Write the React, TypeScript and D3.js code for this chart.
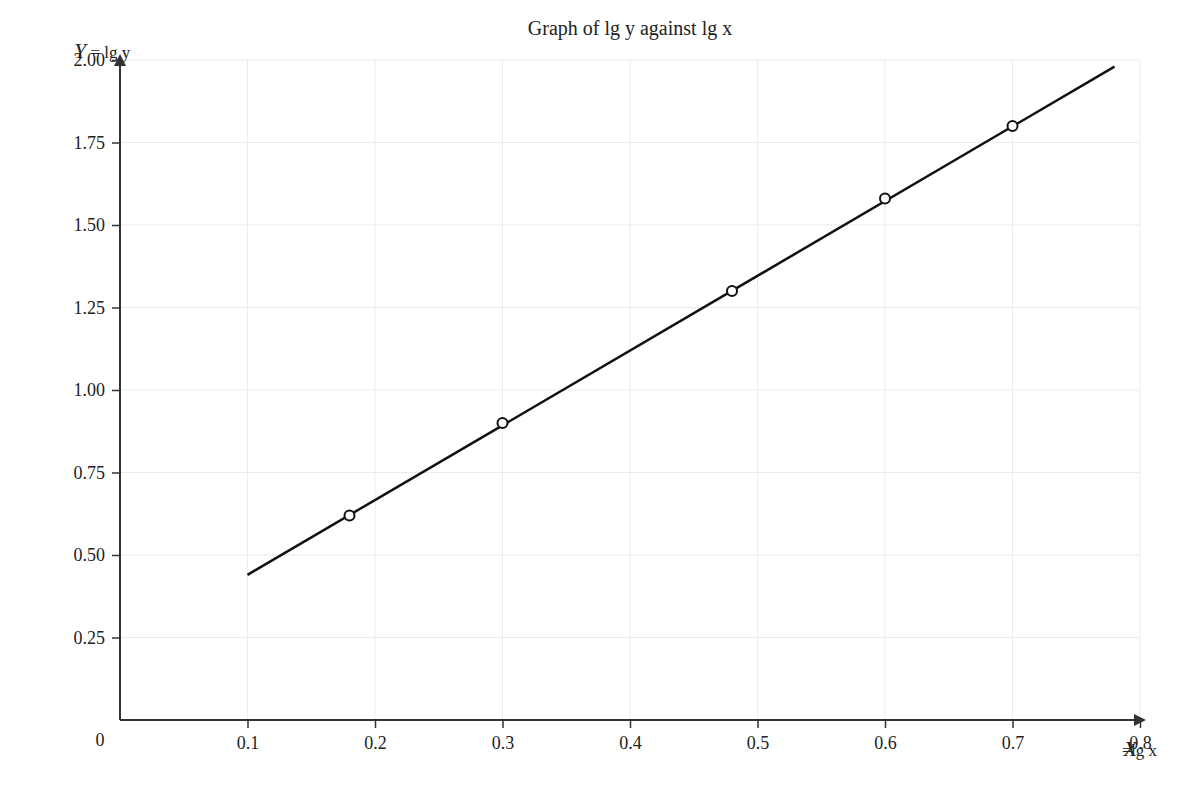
import { useEffect, useRef } from "react";
import * as d3 from "d3";

// measured points (X = lg x, Y = lg y)
const pointX = [0.18, 0.3, 0.48, 0.6, 0.7];
const pointY = [0.62, 0.9, 1.3, 1.58, 1.8];
// line of best fit endpoints
const lineX = [0.1, 0.78];
const lineY = [0.44, 1.98];
const xTicks = [0.1, 0.2, 0.3, 0.4, 0.5, 0.6, 0.7, 0.8];
const yTicks = [0.25, 0.5, 0.75, 1.0, 1.25, 1.5, 1.75, 2.0];

const W = 1200;
const H = 800;
const FONT = "'Liberation Serif', 'Times New Roman', serif";

const App = () => {
  const ref = useRef<SVGSVGElement>(null);

  useEffect(() => {
    const svg = d3.select(ref.current);
    svg.selectAll("*").remove();

    const x = d3.scaleLinear().domain([0, 0.8]).range([120, 1140]);
    const y = d3.scaleLinear().domain([0, 2]).range([720, 60]);

    // grid
    svg.append("g")
      .selectAll("line")
      .data(xTicks)
      .join("line")
      .attr("x1", (d) => x(d)).attr("x2", (d) => x(d))
      .attr("y1", y(0)).attr("y2", y(2))
      .attr("stroke", "#ebebeb").attr("stroke-width", 1);
    svg.append("g")
      .selectAll("line")
      .data(yTicks)
      .join("line")
      .attr("x1", x(0)).attr("x2", x(0.8))
      .attr("y1", (d) => y(d)).attr("y2", (d) => y(d))
      .attr("stroke", "#ebebeb").attr("stroke-width", 1);

    const ink = "#333";

    // x axis
    const xAxis = svg.append("g").attr("transform", `translate(0,${y(0)})`);
    xAxis.call(d3.axisBottom(x).tickValues(xTicks).tickSize(8).tickPadding(8).tickFormat(d3.format(".1f")));
    xAxis.select(".domain").remove();
    xAxis.selectAll(".tick line").attr("stroke", ink).attr("stroke-width", 1.5);
    xAxis.selectAll(".tick text")
      .attr("fill", "#222").style("font-family", FONT).style("font-size", "18px");

    // y axis
    const yAxis = svg.append("g").attr("transform", `translate(${x(0)},0)`);
    yAxis.call(d3.axisLeft(y).tickValues(yTicks).tickSize(8).tickPadding(7).tickFormat(d3.format(".2f")));
    yAxis.select(".domain").remove();
    yAxis.selectAll(".tick line").attr("stroke", ink).attr("stroke-width", 1.5);
    yAxis.selectAll(".tick text")
      .attr("fill", "#222").style("font-family", FONT).style("font-size", "18px");

    // axis lines with arrows
    svg.append("line")
      .attr("x1", x(0)).attr("x2", x(0.8) + 2)
      .attr("y1", y(0)).attr("y2", y(0))
      .attr("stroke", ink).attr("stroke-width", 2);
    svg.append("path")
      .attr("d", `M${x(0.8) - 6},${y(0) - 6} L${x(0.8) + 6},${y(0)} L${x(0.8) - 6},${y(0) + 6} Z`)
      .attr("fill", ink);
    svg.append("line")
      .attr("x1", x(0)).attr("x2", x(0))
      .attr("y1", y(0)).attr("y2", y(2) + 2)
      .attr("stroke", ink).attr("stroke-width", 2);
    svg.append("path")
      .attr("d", `M${x(0) - 6},${y(2) + 6} L${x(0)},${y(2) - 6} L${x(0) + 6},${y(2) + 6} Z`)
      .attr("fill", ink);

    // origin label
    svg.append("text")
      .attr("x", 100).attr("y", 746)
      .attr("text-anchor", "middle")
      .attr("fill", "#222")
      .style("font-family", FONT).style("font-size", "18px")
      .text("0");

    // line of best fit
    const line = d3.line<number>()
      .x((d, i) => x(lineX[i]))
      .y((d, i) => y(lineY[i]));
    svg.append("path")
      .datum(lineY)
      .attr("d", line)
      .attr("fill", "none")
      .attr("stroke", "#111")
      .attr("stroke-width", 2.5);

    // data points
    svg.append("g")
      .selectAll("circle")
      .data(pointX)
      .join("circle")
      .attr("cx", (d) => x(d))
      .attr("cy", (d, i) => y(pointY[i]))
      .attr("r", 5)
      .attr("fill", "white")
      .attr("stroke", "#111")
      .attr("stroke-width", 2);

    // title
    svg.append("text")
      .attr("x", 630).attr("y", 35)
      .attr("text-anchor", "middle")
      .attr("fill", "#222")
      .style("font-family", FONT).style("font-size", "20px")
      .text("Graph of lg y against lg x");

    // axis names
    const yName = svg.append("text")
      .attr("x", 74).attr("y", 58)
      .attr("fill", "#222")
      .style("font-family", FONT);
    yName.append("tspan").style("font-style", "italic").style("font-size", "22px").text("Y");
    yName.append("tspan").style("font-size", "17px").text(" = lg y");

    const xName = svg.append("text")
      .attr("x", 1122).attr("y", 756)
      .attr("fill", "#222")
      .style("font-family", FONT);
    xName.append("tspan").style("font-size", "17px").text("=");
    xName.append("tspan").attr("dx", -8).style("font-style", "italic").style("font-size", "22px").text("X");
    xName.append("tspan").attr("dx", -6).style("font-size", "17px").text("lg x");
  }, []);

  return (
    <svg
      ref={ref}
      width={W}
      height={H}
      style={{ display: "block", position: "absolute", left: 0, top: 0, background: "white" }}
    />
  );
};

export default App;
